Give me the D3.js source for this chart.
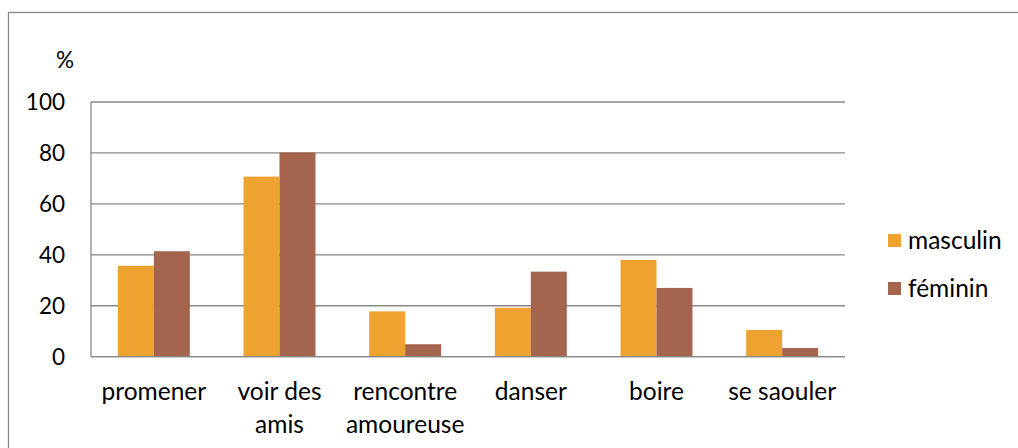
<!DOCTYPE html>
<html>
<head>
<meta charset="utf-8">
<script src="https://cdn.jsdelivr.net/npm/d3@7"></script>
<style>
  body { margin: 0; background: #fff; }
  text { font-family: Lato, "Open Sans", sans-serif; fill: #000; }
</style>
</head>
<body>
<div id="chart"></div>
<script>
var categories = ["promener", "voir des amis", "rencontre amoureuse", "danser", "boire", "se saouler"];
var categoryLines = [["promener"], ["voir des", "amis"], ["rencontre", "amoureuse"], ["danser"], ["boire"], ["se saouler"]];
var series = ["masculin", "féminin"];
var masculin = [35.7, 70.7, 17.8, 19.2, 38.0, 10.5];
var feminin = [41.4, 80.2, 4.9, 33.4, 27.0, 3.4];
var yTicks = [0, 20, 40, 60, 80, 100];
var colors = ["#EEA22F", "#A5644E"];

var width = 1018, height = 448;
var plot = {left: 91, right: 845, top: 102, bottom: 356.7};

var svg = d3.select("#chart")
    .append("svg")
    .attr("width", width)
    .attr("height", height);

// outer frame (cropped on right and bottom)
svg.append("rect")
    .attr("x", 8.5)
    .attr("y", 12.5)
    .attr("width", 1100)
    .attr("height", 600)
    .style("fill", "none")
    .style("stroke", "#8c8c8c")
    .style("stroke-width", 1.3);

var x0 = d3.scaleBand()
    .domain(categories)
    .range([plot.left, plot.right])
    .padding(0);

var x1 = d3.scaleBand()
    .domain(series)
    .range([0, x0.bandwidth()])
    .paddingInner(0)
    .paddingOuter(0.746);

var y = d3.scaleLinear()
    .domain([0, 100])
    .range([plot.bottom, plot.top]);

// gridlines
svg.append("g")
    .selectAll("line")
    .data(yTicks)
    .enter().append("line")
    .attr("x1", plot.left)
    .attr("x2", plot.right)
    .attr("y1", function(d) { return y(d); })
    .attr("y2", function(d) { return y(d); })
    .style("stroke", "#888")
    .style("stroke-width", 1.3);

// left axis line
svg.append("line")
    .attr("x1", plot.left)
    .attr("x2", plot.left)
    .attr("y1", plot.top)
    .attr("y2", plot.bottom)
    .style("stroke", "#888")
    .style("stroke-width", 1.3);

var data = categories.map(function(c, i) {
    return {cat: c, values: [masculin[i], feminin[i]]};
});

var groups = svg.append("g")
    .selectAll("g")
    .data(data)
    .enter().append("g")
    .attr("transform", function(d) { return "translate(" + x0(d.cat) + ",0)"; });

groups.selectAll("rect")
    .data(function(d) { return d.values.map(function(v, j) { return {s: series[j], v: v, j: j}; }); })
    .enter().append("rect")
    .attr("x", function(d) { return x1(d.s); })
    .attr("width", x1.bandwidth())
    .attr("y", function(d) { return y(d.v); })
    .attr("height", function(d) { return y(0) - y(d.v); })
    .style("fill", function(d) { return colors[d.j]; });

// redraw baseline on top of bars
svg.append("line")
    .attr("x1", plot.left)
    .attr("x2", plot.right)
    .attr("y1", y(0))
    .attr("y2", y(0))
    .style("stroke", "#888")
    .style("stroke-width", 1.3);

// y tick labels
svg.append("g")
    .selectAll("text")
    .data(yTicks)
    .enter().append("text")
    .attr("x", 65)
    .attr("y", function(d) { return y(d); })
    .attr("dy", "0.35em")
    .attr("text-anchor", "end")
    .style("font-size", "22.5px")
    .text(function(d) { return d; });

svg.append("text")
    .attr("x", 65)
    .attr("y", 60)
    .attr("dy", "0.35em")
    .attr("text-anchor", "middle")
    .style("font-size", "22.5px")
    .text("%");

// category labels
var labels = svg.append("g")
    .selectAll("text")
    .data(categories)
    .enter().append("text")
    .attr("x", function(d) { return x0(d) + x0.bandwidth() / 2; })
    .attr("y", 400)
    .attr("text-anchor", "middle")
    .style("font-size", "24.5px");

labels.selectAll("tspan")
    .data(function(d, i) { return categoryLines[i]; })
    .enter().append("tspan")
    .attr("x", function() { var p = this.parentNode; return p.getAttribute("x"); })
    .attr("dy", function(d, i) { return i === 0 ? 0 : 33; })
    .text(function(d) { return d; });

// legend
var legend = svg.append("g")
    .selectAll("g")
    .data(series)
    .enter().append("g")
    .attr("transform", function(d, i) { return "translate(888," + (234 + i * 48) + ")"; });

legend.append("rect")
    .attr("width", 13)
    .attr("height", 13)
    .style("fill", function(d, i) { return colors[i]; });

legend.append("text")
    .attr("x", 20)
    .attr("y", 6.5)
    .attr("dy", "0.35em")
    .style("font-size", "24.5px")
    .text(function(d) { return d; });
</script>
</body>
</html>
